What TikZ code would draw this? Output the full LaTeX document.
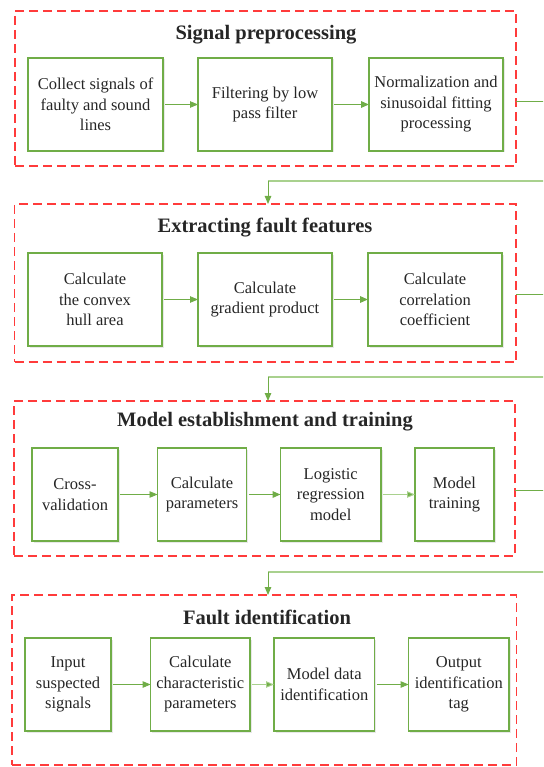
\documentclass[tikz,border=0pt]{standalone}
\usepackage{fontspec}
\setmainfont{Liberation Serif}
\usetikzlibrary{arrows.meta,shadows}
\definecolor{gbox}{HTML}{70AD47}
\definecolor{glight}{HTML}{A9D18E}
\definecolor{dred}{HTML}{FF3B3B}
\definecolor{txt}{HTML}{262626}
\begin{document}
\begin{tikzpicture}[x=1pt,y=-1pt,
  group/.style={draw=dred, line width=1.2pt, dash pattern=on 9pt off 5pt, rectangle, inner sep=0pt, outer sep=0pt},
  stepbox/.style={draw=gbox, line width=1.6pt, fill=white, rectangle, inner sep=0pt, outer sep=0pt,
    minimum height=93pt, align=center, text=txt, font=\fontsize{16.5}{20.5}\selectfont,
    drop shadow={opacity=0.18, shadow xshift=1.5pt, shadow yshift=-1.5pt}},
  title/.style={font=\fontsize{20.5}{24}\selectfont\bfseries, text=txt, inner sep=0pt},
  arr/.style={draw=gbox, line width=0.9pt, -{Triangle[length=8pt,width=6.5pt]}, shorten <=2pt},
  arrthick/.style={arr, line width=1.6pt},
  arrlight/.style={arr, draw=glight, -{Triangle[length=8pt,width=6.5pt,fill=gbox]}},
  link/.style={draw=gbox, line width=1pt},
  back/.style={draw=glight, line width=1.2pt},
  down/.style={draw=gbox, line width=1pt, -{Triangle[length=8pt,width=6.5pt]}}
]
\useasboundingbox (0,0) rectangle (543,767);
\clip (0,0) rectangle (543,767);

% groups
\node[group, minimum width=501pt, minimum height=155pt] (g1) at (265.5,88.5) {};
\node[group, minimum width=501.5pt, minimum height=158pt] (g2) at (265.25,283) {};
\node[group, minimum width=501pt, minimum height=155pt] (g3) at (264.5,478.5) {};
\node[group, minimum width=504.5pt, minimum height=170pt] (g4) at (264.25,680) {};

% titles
\node[title] (t1) at (266,35) {Signal preprocessing};
\node[title] (t2) at (265,228) {Extracting fault features};
\node[title] (t3) at (265,422) {Model establishment and training};
\node[title] (t4) at (267,617) {Fault identification};

% row 1
\node[stepbox, minimum width=135pt] (a1) at (95.5,104.5) {Collect signals of\\faulty and sound\\lines};
\node[stepbox, minimum width=134pt] (a2) at (265,104.5) {Filtering by low\\pass filter};
\node[stepbox, minimum width=134pt] (a3) at (436,104.5) {Normalization and\\sinusoidal fitting\\processing};

% row 2
\node[stepbox, minimum width=134pt] (b1) at (95,299.5) {Calculate\\the convex\\hull area};
\node[stepbox, minimum width=134pt] (b2) at (265,299.5) {Calculate\\gradient product};
\node[stepbox, minimum width=134pt] (b3) at (435,299.5) {Calculate\\correlation\\coefficient};

% row 3
\node[stepbox, minimum width=86pt] (c1) at (75,494.5) {Cross-\\validation};
\node[stepbox, minimum width=89pt] (c2) at (202,494.5) {Calculate\\parameters};
\node[stepbox, minimum width=100.5pt] (c3) at (330.75,494.5) {Logistic\\regression\\model};
\node[stepbox, minimum width=79pt] (c4) at (454.5,494.5) {Model\\training};

% row 4
\node[stepbox, minimum width=86pt] (d1) at (68,684.5) {Input\\suspected\\signals};
\node[stepbox, minimum width=99.4pt] (d2) at (200.3,684.5) {Calculate\\characteristic\\parameters};
\node[stepbox, minimum width=100.6pt] (d3) at (324.3,684.5) {Model data\\identification};
\node[stepbox, minimum width=100.4pt] (d4) at (458.8,684.5) {Output\\identification\\tag};

% arrows inside groups
\draw[arr] (a1) -- (a2);
\draw[arrthick] (a2) -- (a3);
\draw[arr] (b1) -- (b2);
\draw[arrthick] (b2) -- (b3);
\draw[arr] (c1) -- (c2);
\draw[arrthick] (c2) -- (c3);
\draw[arrlight] (c3) -- (c4);
\draw[arr] (d1) -- (d2);
\draw[arrlight] (d2) -- (d3);
\draw[arr] (d3) -- (d4);

% connectors between groups
\coordinate (r1) at (548,102);
\coordinate (e1) at (548,181);
\coordinate (k1) at (268,181);
\coordinate (r2) at (548,294);
\coordinate (e2) at (548,377);
\coordinate (k2) at (268,377);
\coordinate (r3) at (548,490);
\coordinate (e3) at (548,572);
\coordinate (k3) at (268,572);

\draw[link] (g1.east |- r1) -- (r1) -- (e1);
\draw[back] (e1) -- (k1);
\draw[down] (k1) -- (k1 |- g2.north);

\draw[link] (g2.east |- r2) -- (r2) -- (e2);
\draw[back] (e2) -- (k2);
\draw[down] (k2) -- (k2 |- g3.north);

\draw[link] (g3.east |- r3) -- (r3) -- (e3);
\draw[back] (e3) -- (k3);
\draw[down] (k3) -- (k3 |- g4.north);
\end{tikzpicture}
\end{document}
